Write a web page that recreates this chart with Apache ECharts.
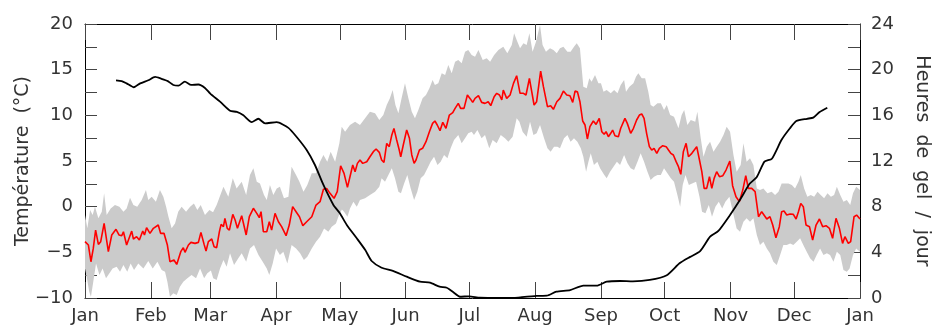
<!DOCTYPE html>
<html><head><meta charset="utf-8">
<script src="https://cdn.jsdelivr.net/npm/echarts@6/dist/echarts.min.js"></script>
<style>html,body{margin:0;padding:0;background:#fff}#c{width:932px;height:329px}</style>
</head><body><div id="c"></div>
<script>
const monthLabels = ['Jan','Feb','Mar','Apr','May','Jun','Jul','Aug','Sep','Oct','Nov','Dec','Jan'];
const monthStartDays = [0,31,59,90,120,151,181,212,243,273,304,334,365];

// Daily mean temperature [day of year, °C]
const meanTemp = [
[0,-3.83],[1.6,-4.2],[2.8,-6.03],[3.9,-4.57],[5.0,-2.56],[6.3,-4.13],[7.4,-3.83],[9.0,-1.83],[11.0,-4.93],[12.6,-3.1],[14.6,-2.48],[16.0,-3.1],[17.3,-3.18],[18.1,-2.74],[19.6,-4.2],[22.0,-2.67],[22.8,-3.54],[24.3,-3.29],[25.6,-3.65],[27.2,-2.67],[28.0,-3.1],[29.0,-2.3],[30.6,-2.92],[32.2,-2.37],[34.5,-2.01],[35.6,-2.92],[37.2,-2.92],[38.8,-4.2],[40.0,-6.03],[41.9,-5.84],[43.2,-6.32],[45.1,-4.93],[46.3,-4.49],[47.1,-5.0],[48.7,-4.2],[49.9,-3.91],[51.8,-4.02],[53.4,-3.91],[54.6,-2.81],[56.1,-4.13],[57.0,-4.86],[58.1,-3.83],
[59.7,-3.54],[60.8,-4.38],[62.0,-4.49],[63.3,-2.74],[64.1,-1.94],[65.2,-2.19],[65.9,-1.28],[67.0,-2.37],[68.0,-2.56],[69.6,-0.84],[70.7,-1.46],[71.8,-2.37],[73.8,-0.99],[75.9,-3.1],[77.4,-1.1],[79.3,-0.18],[80.9,-0.73],[82.1,-1.21],[82.9,-0.55],[84.0,-2.74],[85.6,-2.74],[86.8,-1.65],[87.9,-2.56],[89.5,-0.73],[91.1,-1.65],[92.6,-2.19],[94.7,-3.18],[96.2,-2.01],[97.8,0.0],[99.4,-0.55],[101.0,-1.1],[102.6,-2.08],[104.4,-1.65],[106.8,-1.1],[108.8,0.18],[110.7,0.54],[112.3,1.9],[113.8,2.0],[115.4,1.46],[117.3,0.91],[118.8,1.64],[120.4,4.48],
[122.0,3.65],[123.6,2.11],[124.8,3.28],[126.1,4.56],[127.2,3.83],[128.3,4.74],[129.5,5.11],[130.8,4.74],[132.7,4.92],[134.2,5.47],[135.8,6.02],[137.1,6.31],[138.6,5.95],[139.7,5.11],[140.8,4.85],[142.1,6.93],[143.3,6.57],[144.5,7.85],[145.5,8.57],[146.8,7.3],[148.0,6.2],[148.7,5.47],[149.9,6.75],[151.5,8.39],[152.8,7.48],[153.9,5.66],[155.0,4.74],[155.9,5.11],[157.5,6.2],[159.0,6.39],[160.6,7.12],[162.2,8.21],[163.7,9.12],[164.8,9.38],[165.9,8.94],[167.2,8.32],[168.5,9.23],[170.0,8.57],[171.6,10.03],[173.2,10.29],[174.3,10.76],[175.8,11.31],[176.9,10.76],[178.5,10.76],[180.1,12.23],
[181.5,11.8],[182.6,11.42],[183.7,11.86],[185.3,12.15],[186.8,11.42],[188.4,11.31],[189.9,11.49],[191.1,11.06],[192.7,12.04],[193.9,12.41],[195.2,12.23],[196.3,11.68],[197.0,12.77],[198.6,11.86],[200.2,12.23],[201.8,13.5],[203.3,14.34],[204.9,12.41],[206.5,12.41],[207.7,12.23],[209.3,14.05],[210.4,12.59],[211.5,11.13],[212.7,11.49],[214.6,14.85],[215.9,13.14],[217.8,10.95],[219.3,11.06],[220.6,10.66],[222.2,11.49],[223.7,11.86],[225.3,12.66],[226.9,12.23],[228.4,12.15],[229.7,11.42],[230.8,12.66],[231.9,12.59],[233.1,11.49],[234.4,9.38],[235.5,8.94],[236.6,7.41],[237.8,8.76],[239.4,9.38],[240.7,9.01],[242.2,9.67],
[243.4,8.2],[244.5,7.92],[245.4,8.21],[246.5,7.66],[247.6,8.03],[248.5,8.39],[249.6,7.77],[251.2,7.66],[252.3,8.58],[253.2,8.5],[254.3,9.67],[255.4,9.12],[257.0,8.03],[258.3,8.58],[259.8,9.49],[261.1,10.03],[262.2,10.15],[263.3,9.67],[264.5,8.03],[265.8,6.57],[266.9,6.2],[268.0,6.39],[269.3,5.84],[270.5,6.39],[272.1,6.68],[273.7,6.57],[274.8,6.2],[275.9,5.84],[277.1,5.66],[278.4,4.93],[279.5,4.38],[280.6,3.54],[281.8,6.02],[283.1,6.93],[284.2,5.47],[285.8,5.84],[288.1,6.57],[289.4,5.11],[290.5,3.83],[291.6,2.0],[292.8,2.0],[294.1,3.28],[295.2,2.0],[296.3,3.1],[297.5,3.83],[298.8,3.28],[300.4,3.39],[301.9,4.01],[303.7,5.0],[305.0,2.3],[306.6,1.09],
[308.2,0.55],[309.8,1.82],[311.2,3.39],[312.4,2.0],[314.0,2.0],[315.6,1.64],[317.2,-1.1],[318.7,-0.55],[319.5,-0.62],[321.1,-1.35],[322.6,-1.1],[323.9,-2.01],[325.4,-3.4],[327.0,-2.19],[328.1,-0.55],[329.2,-0.48],[330.5,-0.92],[332.1,-0.8],[333.6,-0.84],[334.9,-1.35],[336.0,-0.55],[337.1,0.36],[338.3,0.0],[339.6,-2.01],[341.2,-2.19],[342.7,-3.65],[344.3,-2.01],[345.9,-1.35],[347.4,-2.19],[349.0,-2.08],[350.6,-2.37],[352.1,-3.47],[353.7,-1.28],[355.3,-2.37],[356.8,-4.02],[357.9,-3.29],[359.5,-4.02],[360.6,-3.83],[362.2,-1.1],[363.4,-0.92],[365,-1.35]
];

// Upper edge of the daily range band [day, °C]
const bandUpper = [
[0,-0.92],[1.1,-2.37],[2.4,-0.37],[3.6,-0.92],[4.7,0.0],[6.3,-1.28],[7.9,-0.55],[9.0,1.46],[10.2,-0.92],[12.1,-0.19],[14.1,0.18],[16.2,0.0],[18.1,-0.55],[19.6,-0.19],[21.2,0.98],[22.8,0.18],[24.6,0.0],[26.7,0.73],[28.7,1.82],[29.8,0.73],[31.4,1.09],[33.4,0.55],[35.3,1.82],[36.9,1.09],[38.2,0.0],[39.3,-1.1],[40.8,-2.37],[42.4,-1.83],[43.9,-0.55],[45.5,0.0],[47.6,-0.55],[49.5,0.0],[51.3,0.36],[52.9,-0.37],[54.5,0.18],[56.5,-0.92],[58.6,-0.37],
[60.3,-0.6],[62.0,0.18],[65.2,2.19],[67.5,1.09],[69.6,3.1],[71.4,2.0],[73.8,2.74],[75.9,1.27],[77.7,3.47],[79.3,4.2],[80.9,2.74],[82.4,2.55],[84.3,1.27],[85.6,0.73],[87.1,2.37],[88.7,1.27],[90.3,2.0],[91.8,2.19],[93.7,0.91],[95.8,1.09],[97.3,4.38],[99.4,3.47],[101.0,2.74],[102.9,1.64],[104.7,2.37],[106.8,3.65],[108.8,3.65],[110.7,4.93],[112.3,5.66],[114.1,4.93],[115.7,6.02],[117.8,4.93],[119.8,6.93],[120.9,8.76],
[122.5,8.21],[124.8,8.94],[127.2,9.31],[129.5,8.94],[131.9,9.67],[134.2,10.4],[136.6,10.22],[138.6,9.49],[140.5,10.04],[142.1,11.13],[143.6,11.86],[144.9,12.77],[146.2,11.13],[147.6,10.22],[149.1,11.86],[150.7,13.5],[152.3,11.86],[153.9,10.4],[155.4,9.67],[157.0,10.58],[159.0,11.86],[160.6,12.23],[162.2,12.96],[163.7,13.87],[164.8,13.32],[166.4,13.5],[168.0,14.6],[169.6,14.42],[171.1,15.51],[172.7,14.6],[174.3,15.88],[175.8,16.06],[177.4,15.69],[179.0,16.97],[180.5,17.15],
[182.1,16.6],[183.7,16.42],[185.3,17.15],[187.3,16.06],[189.2,16.24],[190.8,15.88],[192.7,16.6],[194.7,17.15],[197.0,17.52],[198.9,16.79],[201.0,17.7],[202.1,18.98],[203.3,18.25],[204.9,17.34],[206.5,17.88],[208.0,17.7],[209.3,18.98],[210.8,16.97],[212.4,18.07],[214.3,19.89],[215.5,17.7],[217.1,16.97],[219.0,17.34],[220.6,17.15],[222.2,16.79],[223.7,17.34],[225.3,17.52],[227.2,16.97],[228.7,16.97],[230.3,17.52],[231.6,17.88],[233.1,17.34],[234.7,13.14],[236.3,12.96],[237.5,14.05],[238.6,13.69],[240.2,14.42],[241.8,13.5],
[243.0,13.5],[244.2,12.59],[245.7,12.77],[247.6,12.41],[249.2,12.77],[250.8,12.41],[252.3,13.32],[253.9,13.87],[254.8,12.59],[256.4,13.14],[258.3,13.5],[259.5,14.23],[260.6,14.6],[262.2,14.05],[263.8,14.05],[265.3,12.59],[266.4,11.13],[267.7,10.95],[269.6,11.31],[271.2,11.31],[272.7,10.58],[274.0,11.13],[275.6,10.04],[277.4,9.85],[279.5,8.58],[281.0,10.04],[282.2,10.58],[283.7,8.94],[285.3,9.49],[287.4,9.31],[288.4,10.4],[290.0,7.48],[291.3,5.47],[292.8,6.57],[294.4,7.12],[296.0,6.02],[297.5,6.57],[299.1,7.12],[300.7,7.85],[302.2,8.76],
[303.8,8.21],[305.4,5.66],[306.9,3.83],[308.8,4.56],[310.1,6.93],[311.6,4.93],[313.2,5.29],[314.8,4.56],[316.4,2.0],[317.9,1.82],[319.5,2.0],[321.4,1.46],[323.4,1.64],[325.0,1.28],[326.6,1.64],[328.1,2.55],[329.7,2.55],[331.3,2.55],[332.9,2.37],[334.4,2.0],[336.0,2.74],[337.1,3.47],[338.7,2.0],[340.2,1.09],[341.8,1.28],[343.4,1.09],[345.0,1.64],[346.5,1.28],[348.1,0.91],[349.7,1.46],[351.3,1.09],[352.8,1.28],[354.1,2.19],[355.7,1.28],[357.2,0.55],[358.8,0.73],[360.4,0.18],[361.7,1.46],[363.2,2.19],[365,1.82]
];

// Lower edge of the daily range band [day, °C]
const bandLower = [
[0,-6.76],[0.9,-7.85],[2.0,-9.31],[2.8,-9.86],[3.9,-8.22],[5.2,-6.21],[6.8,-7.49],[8.3,-6.76],[9.9,-7.85],[11.5,-7.3],[13.0,-6.76],[14.9,-6.57],[16.5,-7.12],[18.1,-6.39],[19.9,-7.12],[21.5,-6.21],[23.1,-6.94],[25.1,-6.21],[27.5,-6.76],[29.8,-5.95],[31.9,-6.76],[34.1,-6.03],[36.1,-6.94],[37.7,-7.12],[38.8,-8.22],[40.0,-9.86],[41.6,-9.49],[43.2,-9.68],[44.7,-8.76],[46.3,-8.22],[48.2,-7.85],[50.2,-7.49],[52.3,-7.85],[54.2,-6.76],[56.1,-7.85],[57.6,-7.3],
[59.3,-7.0],[60.4,-7.85],[62.0,-8.03],[63.6,-6.76],[65.2,-5.84],[66.7,-6.57],[68.3,-5.11],[70.2,-6.39],[72.2,-5.66],[73.8,-5.11],[75.9,-6.03],[77.7,-4.57],[79.6,-4.2],[81.7,-5.3],[83.7,-6.03],[85.6,-6.76],[86.8,-7.49],[88.4,-6.21],[90.0,-4.57],[91.8,-5.3],[93.4,-4.93],[95.3,-6.21],[97.3,-4.2],[99.4,-4.57],[101.3,-5.11],[103.1,-5.84],[104.7,-5.48],[106.8,-4.57],[108.8,-3.84],[110.7,-3.29],[112.6,-2.38],[114.6,-2.74],[116.2,-2.19],[118.2,-1.83],[119.5,-1.0],
[121.0,-0.3],[122.0,-0.55],[123.6,-1.1],[124.8,-0.19],[126.4,0.55],[128.0,0.0],[129.5,0.73],[131.9,0.91],[134.2,1.28],[136.6,1.64],[138.6,2.19],[139.7,3.1],[141.3,2.74],[142.9,3.47],[144.5,4.2],[146.0,3.1],[147.6,1.64],[148.8,1.46],[150.3,2.55],[151.8,3.47],[153.4,2.0],[155.0,0.73],[156.5,1.64],[158.1,3.1],[159.7,3.47],[161.3,4.2],[162.8,4.93],[164.4,5.47],[166.0,4.56],[167.5,4.93],[169.1,5.66],[170.7,5.29],[172.2,6.39],[173.8,7.3],[175.8,7.85],[177.4,6.93],[179.0,7.48],[180.5,8.03],[182.1,8.2],
[183.2,7.85],[184.8,8.39],[186.8,7.48],[188.4,7.85],[190.4,6.39],[192.0,7.3],[193.9,6.93],[195.8,7.85],[197.8,7.48],[199.4,7.12],[201.4,7.66],[203.3,9.67],[204.6,9.31],[206.1,8.21],[208.0,7.66],[209.6,9.31],[211.2,7.85],[212.7,8.03],[214.3,8.94],[216.2,7.48],[217.8,6.39],[219.3,6.02],[220.9,6.57],[222.5,6.57],[223.7,6.39],[225.6,7.48],[227.2,7.85],[228.7,7.12],[230.3,7.48],[231.9,7.12],[233.5,6.39],[234.7,5.47],[236.0,3.83],[237.1,4.93],[238.2,5.84],[239.7,4.56],[241.3,4.93],[242.6,4.2],
[243.4,3.9],[244.5,3.5],[245.7,3.1],[247.3,3.83],[248.9,4.38],[250.5,4.93],[252.0,4.56],[253.9,5.66],[255.5,4.74],[257.0,4.2],[258.6,4.01],[260.2,4.93],[261.7,5.84],[263.3,4.93],[264.9,3.83],[266.4,2.92],[268.0,3.28],[269.6,3.47],[271.2,3.47],[272.7,4.2],[274.3,3.65],[275.9,3.1],[277.4,2.74],[279.0,1.28],[280.3,0.0],[281.5,2.37],[282.8,3.47],[284.4,2.37],[285.9,2.55],[287.8,2.74],[289.4,1.09],[290.6,-0.55],[292.2,-0.73],[293.8,0.18],[295.3,-1.1],[296.9,0.0],[298.5,0.55],[300.1,-0.19],[301.6,0.55],[303.5,1.09],[305.1,-0.55],
[306.9,-2.38],[308.5,-2.74],[310.1,-1.65],[311.6,-1.28],[313.2,-1.65],[314.8,-1.28],[316.4,-3.11],[317.9,-4.2],[319.5,-3.84],[321.1,-4.57],[322.6,-5.11],[324.2,-6.03],[325.8,-6.39],[327.4,-5.3],[328.9,-4.2],[330.5,-4.2],[332.1,-4.02],[333.6,-4.2],[335.2,-3.84],[336.8,-3.47],[338.3,-4.2],[339.9,-4.93],[341.5,-5.66],[343.1,-6.03],[344.6,-5.3],[346.2,-4.57],[347.8,-5.3],[349.4,-5.11],[350.9,-5.3],[352.5,-6.03],[354.1,-4.93],[355.7,-5.3],[357.2,-6.94],[358.8,-7.12],[360.1,-6.76],[361.7,-5.3],[363.2,-4.57],[365,-4.93]
];

// Frost hours per day (running mean) [day, hours]
const frostHours = [
[14.6,19.07],[17.3,19.0],[19.6,18.8],[23,18.46],[26,18.8],[29.8,19.07],[33,19.36],[36,19.2],[39,19.0],[41.6,18.66],[44,18.6],[47,18.95],[50,18.66],[53.4,18.7],[56.5,18.4],[59,17.9],[63.6,17.2],[68.3,16.4],[71.5,16.3],[74.6,16.0],[78.5,15.4],[81.6,15.7],[84.8,15.3],[90.3,15.4],[95.8,14.9],[99.7,14.1],[104.4,12.96],[108.3,11.65],[112.3,9.9],[117,8.15],[120.1,7.4],[123.3,6.4],[128,5.23],[132,4.2],[135,3.24],[139.7,2.65],[145,2.37],[151.5,1.87],[157.8,1.43],[162.5,1.34],[167,0.99],[170.4,0.9],[173.5,0.5],[176.6,0.11],[181,0.15],[186,0.02],[201.7,0],[205,0.06],[212.7,0.18],[217.5,0.2],[222,0.55],[228.5,0.7],[234.7,1.08],[241,1.08],[245.7,1.43],[252,1.49],[258,1.46],[266,1.58],[274,2.0],[280,3.04],[285,3.6],[289.7,4.1],[294.4,5.37],[298.3,5.87],[303.8,7.27],[308.5,8.6],[313,10.0],[316.4,10.6],[320,11.94],[323.5,12.2],[328,13.84],[332,14.87],[335,15.5],[340,15.7],[343,15.8],[346,16.3],[349.6,16.67]
];

const FONT = 'DejaVu Sans';
const TXT = '#333';
const chart = echarts.init(document.getElementById('c'), null, {renderer:'canvas'});
const monthFmt = v => { const i = monthStartDays.indexOf(v); return i >= 0 ? monthLabels[i] : ''; };
const xCommon = {
  type:'value', min:0, max:365,
  axisLine:{show:true, onZero:false, lineStyle:{color:'#000', width:1}},
  axisTick:{show:true, inside:true, length:16, customValues: monthStartDays, lineStyle:{color:'#444', width:1}},
  splitLine:{show:false}
};
chart.setOption({
  animation:false,
  backgroundColor:'#fff',
  grid:{left:85, right:72, top:24, bottom:31, containLabel:false, outerBoundsMode:'none'},
  xAxis:[
    Object.assign({}, xCommon, {position:'bottom',
      axisLabel:{show:true, customValues: monthStartDays, formatter: monthFmt, color:TXT, fontFamily:FONT, fontSize:18, margin:9}}),
    Object.assign({}, xCommon, {position:'top', axisLabel:{show:false}})
  ],
  yAxis:[
    {type:'value', position:'left', min:-10, max:20, interval:2.5,
     name:'Température  (°C)', nameLocation:'middle', nameGap:52, nameRotate:90, nameMoveOverlap:false,
     nameTextStyle:{color:TXT, fontFamily:FONT, fontSize:19},
     axisLine:{show:true, onZero:false, lineStyle:{color:'#000', width:1}},
     axisTick:{show:true, inside:true, length:12, lineStyle:{color:'#444'}},
     axisLabel:{color:TXT, fontFamily:FONT, fontSize:18, margin:12,
       formatter: v => (v % 5 === 0) ? (v < 0 ? '\u2212' + Math.abs(v) : String(v)) : ''},
     splitLine:{show:false}},
    {type:'value', position:'right', min:0, max:24, interval:2,
     name:'Heures  de  gel  /  jour', nameLocation:'middle', nameGap:52, nameRotate:-90, nameMoveOverlap:false,
     nameTextStyle:{color:TXT, fontFamily:FONT, fontSize:19},
     axisLine:{show:true, onZero:false, lineStyle:{color:'#000', width:1}},
     axisTick:{show:true, inside:true, length:12, lineStyle:{color:'#444'}},
     axisLabel:{color:TXT, fontFamily:FONT, fontSize:18, margin:11,
       formatter: v => (v % 4 === 0) ? String(v) : ''},
     splitLine:{show:false}}
  ],
  series:[
    {type:'custom', xAxisIndex:0, yAxisIndex:0, silent:true, z:1, clip:true,
     data: bandUpper, encode:{x:0, y:1},
     renderItem:(params, api) => {
       if (params.dataIndex !== 0) return null;
       const pts = bandUpper.map(p => api.coord(p)).concat(bandLower.slice().reverse().map(p => api.coord(p)));
       return {type:'polygon', shape:{points:pts}, style:{fill:'#cbcbcb', stroke:null}};
     }},
    {type:'line', xAxisIndex:0, yAxisIndex:0, data: meanTemp, showSymbol:false, z:3,
     lineStyle:{color:'#ff0000', width:1.6}},
    {type:'line', xAxisIndex:0, yAxisIndex:1, data: frostHours, showSymbol:false, z:4, smooth:0.2,
     lineStyle:{color:'#000', width:1.8}}
  ]
});
</script></body></html>
